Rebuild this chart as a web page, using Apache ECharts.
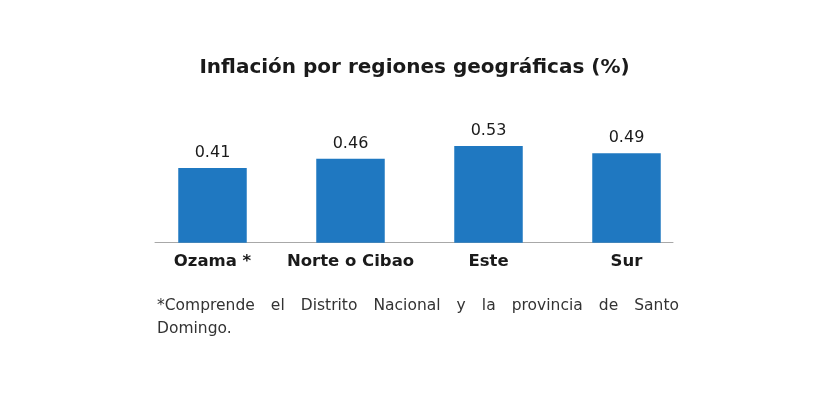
<!DOCTYPE html>
<html>
<head>
<meta charset="utf-8">
<script src="https://cdn.jsdelivr.net/npm/echarts@6/dist/echarts.min.js"></script>
<style>
html,body{margin:0;padding:0;background:#fff;}
#chart{width:829px;height:402px;}
</style>
</head>
<body>
<div id="chart"></div>
<script>
var categories = ['Ozama *', 'Norte o Cibao', 'Este', 'Sur'];
var values = [0.41, 0.46, 0.53, 0.49];
var titleText = 'Inflación por regiones geográficas (%)';
var footLine1 = '*Comprende el Distrito Nacional y la provincia de Santo';
var footLine2 = 'Domingo.';

var FAM = '"DejaVu Sans"';
var FONT = FAM + ', sans-serif';
var chart = echarts.init(document.getElementById('chart'));

function justifiedWords(text, x0, x1, y, fontSize) {
  var c = document.createElement('canvas').getContext('2d');
  var f = fontSize + 'px ' + FAM;
  c.font = f;
  var words = text.split(' ');
  var widths = words.map(function (w) { return c.measureText(w).width; });
  var total = widths.reduce(function (a, b) { return a + b; }, 0);
  var gap = (x1 - x0 - total) / (words.length - 1);
  var x = x0, out = [];
  words.forEach(function (w, i) {
    out.push({
      type: 'text', x: x, y: y,
      style: { text: w, font: f, fill: '#333', verticalAlign: 'middle' }
    });
    x += widths[i] + gap;
  });
  return out;
}

var graphics = justifiedWords(footLine1, 157, 679, 306, 15.5);
graphics.push({
  type: 'text', x: 157, y: 329,
  style: { text: footLine2, font: '15.5px ' + FAM, fill: '#333', verticalAlign: 'middle' }
});

chart.setOption({
  animation: false,
  title: {
    text: titleText,
    left: 'center',
    top: 53,
    textStyle: { fontFamily: FONT, fontSize: 20, fontWeight: 'bold', color: '#1a1a1a' }
  },
  grid: [
    { left: 143.5, right: 133.5, top: 60.2, bottom: 159.3 },
    { left: 155, right: 156, top: 60.2, bottom: 159.3 }
  ],
  xAxis: [
    {
      type: 'category', gridIndex: 0, data: categories,
      axisLine: { show: false }, axisTick: { show: false },
      axisLabel: { interval: 0, margin: 11, fontFamily: FONT, fontSize: 16.5, fontWeight: 'bold', color: '#1a1a1a' }
    },
    {
      type: 'category', gridIndex: 1, data: categories,
      axisLine: { show: true, lineStyle: { color: '#a8a8a8', width: 1 } },
      axisTick: { show: false }, axisLabel: { show: false }
    }
  ],
  yAxis: [
    { type: 'value', gridIndex: 0, min: 0, max: 1, show: false },
    { type: 'value', gridIndex: 1, min: 0, max: 1, show: false }
  ],
  series: [{
    type: 'bar', xAxisIndex: 0, yAxisIndex: 0,
    data: values, barWidth: 68.5,
    itemStyle: { color: '#1f78c1' },
    label: {
      show: true, position: 'top', distance: 7,
      fontFamily: FONT, fontSize: 16, fontWeight: 400, color: '#1a1a1a',
      formatter: function (p) { return p.value.toFixed(2); }
    }
  }],
  graphic: graphics
});
</script>
</body>
</html>
